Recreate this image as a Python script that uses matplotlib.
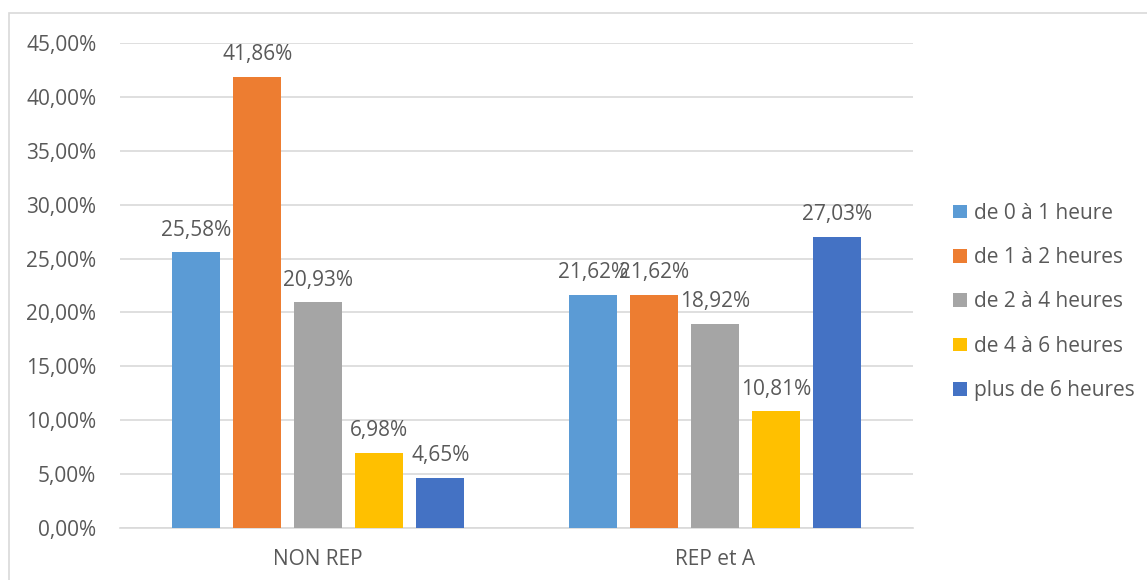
import matplotlib
matplotlib.use("Agg")
import matplotlib.pyplot as plt
from matplotlib.patches import Rectangle
import numpy as np

categories = ["NON REP", "REP et A"]
series_names = ["de 0 à 1 heure", "de 1 à 2 heures", "de 2 à 4 heures",
                "de 4 à 6 heures", "plus de 6 heures"]
values = [
    [25.58, 21.62],
    [41.86, 21.62],
    [20.93, 18.92],
    [6.98, 10.81],
    [4.65, 27.03],
]
colors = ["#5B9BD5", "#ED7D31", "#A5A5A5", "#FFC000", "#4472C4"]
y_ticks = [0, 5, 10, 15, 20, 25, 30, 35, 40, 45]

plt.rcParams["font.family"] = ["Open Sans", "DejaVu Sans"]
text_color = "#595959"
fs = 15


def fr_pct(v):
    return f"{v:.2f}".replace(".", ",") + "%"


fig = plt.figure(figsize=(11.47, 5.80), dpi=100)
ax = fig.add_axes([0.1046, 0.0897, 0.796 - 0.1046, 0.9259 - 0.0897])

# cadre gris du graphique
fig.patches.append(Rectangle((9 / 1147, -0.1), 1.2, (580 - 13) / 580 + 0.1,
                             transform=fig.transFigure, fill=False,
                             edgecolor="#D9D9D9", linewidth=1.2))

x = np.arange(len(categories))
width = 0.121
step = 0.154
for i, (name, vals, col) in enumerate(zip(series_names, values, colors)):
    pos = x + (i - 2) * step
    bars = ax.bar(pos, vals, width=width, color=col, label=name, zorder=3)
    for b, v in zip(bars, vals):
        ax.annotate(fr_pct(v), (b.get_x() + b.get_width() / 2, v),
                    xytext=(0, 16), textcoords="offset points",
                    ha="center", va="center", fontsize=fs, color=text_color)

ax.set_xlim(-0.5, 1.5)
ax.set_ylim(0, 45)
ax.set_yticks(y_ticks)
ax.set_yticklabels([fr_pct(t) for t in y_ticks])
ax.set_xticks(x)
ax.set_xticklabels(categories)
ax.tick_params(axis="both", length=0, labelsize=fs, colors=text_color)
ax.tick_params(axis="y", pad=17)
ax.tick_params(axis="x", pad=15)
ax.grid(axis="y", color="#D9D9D9", linewidth=1.2, zorder=0)
for side in ["top", "right", "left"]:
    ax.spines[side].set_visible(False)
ax.spines["bottom"].set_color("#D9D9D9")
ax.spines["bottom"].set_linewidth(1.2)

leg = ax.legend(loc="center left", bbox_to_anchor=(1.027, 0.466), frameon=False,
                fontsize=fs, handlelength=0.65, handleheight=0.65,
                handletextpad=0.33, labelspacing=1.12)
for t in leg.get_texts():
    t.set_color(text_color)

fig.savefig("out.png", dpi=100)
